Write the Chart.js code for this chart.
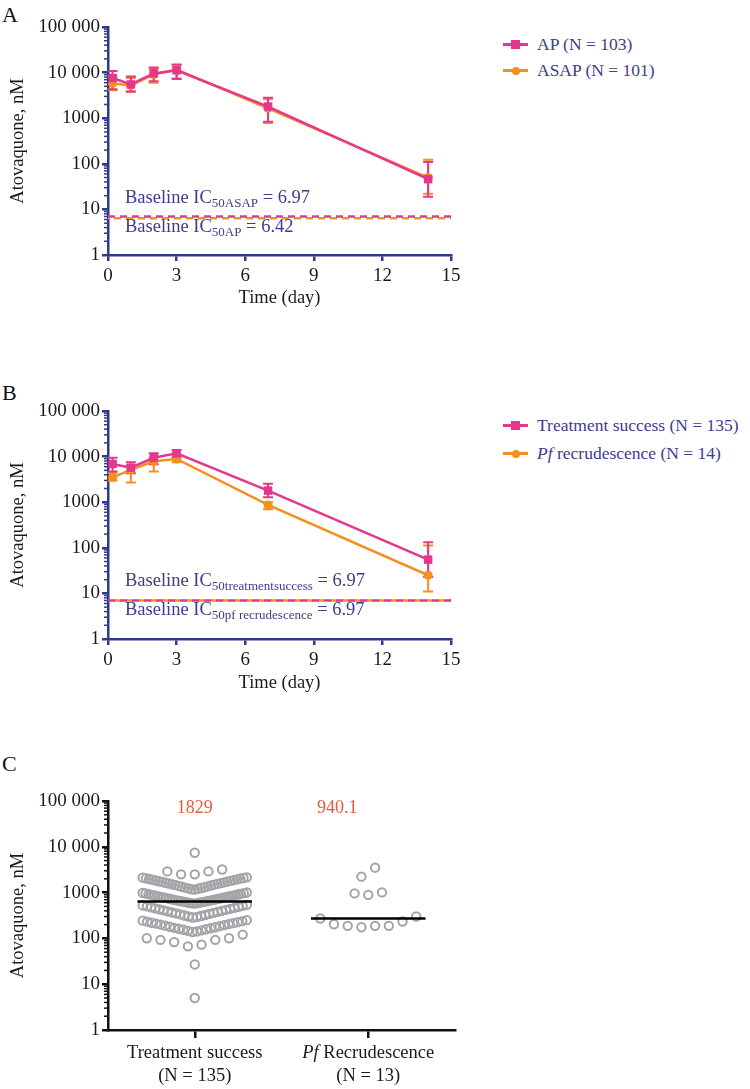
<!DOCTYPE html>
<html>
<head>
<meta charset="utf-8">
<script src="https://cdn.jsdelivr.net/npm/chart.js@4.4.1/dist/chart.umd.min.js"></script>
<style>
  body { margin: 0; background: #fff; font-family: "Liberation Serif", "Times New Roman", Tinos, "DejaVu Serif", serif; }
  #page { position: relative; width: 750px; height: 1089px; overflow: hidden; }
  .panel { position: absolute; left: 0; }
  .letter { position: absolute; left: 2px; font-size: 22px; color: #111; line-height: 22px; }
  .item { position: absolute; left: 503px; height: 20px; line-height: 20px; white-space: nowrap; font-size: 17.5px; color: #3d3d8c; }
  .sw { display: inline-block; position: relative; width: 25px; height: 20px; vertical-align: top; margin-right: 9px; }
  .sw::before { content: ''; position: absolute; left: 0; right: 0; top: 9px; height: 2.5px; background: var(--c); }
  .sw::after { content: ''; position: absolute; left: 8px; top: 6px; width: 9px; height: 9px; background: var(--c); }
  .sw.dot::after { border-radius: 50%; left: 8.5px; top: 6.5px; width: 8px; height: 8px; }
</style>
</head>
<body>
<div id="page">
  <div class="letter" style="top:4px">A</div>
  <div class="letter" style="top:382px">B</div>
  <div class="letter" style="top:753px">C</div>

  <div class="item" style="top:34px"><span class="sw" style="--c:#e5378c"></span>AP (N = 103)</div>
  <div class="item" style="top:60px"><span class="sw dot" style="--c:#f39020"></span>ASAP (N = 101)</div>
  <div class="item" style="top:415px"><span class="sw" style="--c:#e5378c"></span>Treatment success (N = 135)</div>
  <div class="item" style="top:443px"><span class="sw dot" style="--c:#f39020"></span><i>Pf</i> recrudescence (N = 14)</div>

  <div class="panel" style="top:0px"><canvas id="chartA" width="470" height="320"></canvas></div>
  <div class="panel" style="top:380px"><canvas id="chartB" width="470" height="320"></canvas></div>
  <div class="panel" style="top:740px"><canvas id="chartC" width="470" height="349"></canvas></div>
</div>
<script>
// sampling days
var days = [0.2, 1, 2, 3, 7, 14];

// panel A: AP vs ASAP
var apMean = [7600, 5500, 9600, 11200, 1800, 46];
var apLow = [4300, 3800, 6500, 7200, 840, 19];
var apHigh = [10800, 8200, 12900, 15000, 2800, 109];
var asapMean = [5800, 5200, 9100, 11600, 1650, 50];
var asapLow = [4100, 3900, 6000, 7400, 780, 22];
var asapHigh = [8300, 7600, 12000, 14500, 2600, 122];
var baselineA = [6.97, 6.42];
var baseTextA = [['Baseline IC', '50ASAP', ' = 6.97'], ['Baseline IC', '50AP', ' = 6.42']];

// panel B: treatment success vs Pf recrudescence
var tsMean = [6900, 5700, 9400, 11800, 1800, 55];
var tsLow = [4700, 4300, 6800, 9500, 1290, 23];
var tsHigh = [9400, 7500, 11800, 14000, 2530, 132];
var pfMean = [3500, 5100, 7900, 8900, 870, 25];
var pfLow = [3000, 2700, 4700, 7500, 700, 11];
var pfHigh = [4400, 6500, 9500, 10500, 1000, 112];
var baselineB = [6.97, 6.97];
var baseTextB = [['Baseline IC', '50treatmentsuccess', ' = 6.97'], ['Baseline IC', '50pf recrudescence', ' = 6.97']];

// panel C: individual concentrations
var tsValues = [
  7400,
  2500, 2500, 2900, 2900, 3200,
  1160, 1185, 1210, 1235, 1260, 1285, 1310, 1340, 1370, 1400, 1430, 1460, 1490, 1520, 1550, 1580, 1610,
  1640, 1670, 1700, 1735, 1770, 1805, 1840, 1875, 1910, 1945, 1980, 2015, 2050, 2085, 2120, 2150,
  575, 583, 592, 601, 610, 619, 627, 636, 645, 655, 665, 675, 686, 697, 708, 720, 732, 744,
  756, 769, 782, 795, 808, 822, 836, 850, 864, 879, 894, 909, 924, 940, 956, 972, 988, 1005,
  285, 293, 301, 309, 317, 325, 334, 343, 352, 361, 370, 380, 390, 400, 410, 420, 431, 442,
  453, 464, 476, 488, 500, 512, 525, 540,
  138, 142, 146, 150, 154, 158, 162, 166, 170, 175, 180, 185, 190, 195, 200, 205, 210, 215,
  220, 226, 232, 238, 244, 250,
  67, 73, 83, 93, 93, 101, 101, 121,
  27,
  5
];
var pfValues = [175, 188, 188, 188, 204, 234, 272, 300, 890, 960, 1010, 2230, 3500];
var groupLabels = [[{t: 'Treatment success'}], [{t: 'Pf', i: true}, {t: ' Recrudescence'}]];
var groupN = ['(N = 135)', '(N = 13)'];
var groupNumbers = ['1829', '940.1'];

var decades = [1, 10, 100, 1000, 10000, 100000];

var PINK = '#e5378c', ORANGE = '#f39020', NAVY = '#2f3a8a', TEXTNAVY = '#3d3d8c', GREY = '#a3a3a8';
var FAM = '"Liberation Serif", "Times New Roman", Tinos, "DejaVu Serif", serif';
Chart.defaults.font.family = FAM;

function fmt(v) {
  return v >= 10000 ? String(v).replace(/(\d)(\d{3})$/, '$1 $2') : String(v);
}

function pts(means) {
  return days.map((d, i) => ({x: d, y: means[i]}));
}

function logAxis(color, area) {
  return {
    type: 'logarithmic', min: 1, max: 100000,
    afterBuildTicks: s => { s.ticks = decades.map(v => ({value: v, major: true})); },
    afterFit: s => { s.width = area; },
    ticks: {callback: v => fmt(v), font: {size: 19}, color: '#1a1a1a', padding: 2},
    grid: {drawOnChartArea: false, color: color, lineWidth: 2.5, tickLength: 6},
    border: {color: color, width: 2.5},
    title: {display: true, text: 'Atovaquone, nM', font: {size: 18.5}, color: '#1a1a1a', padding: {top: 7, bottom: 0}}
  };
}

function timeAxis(h, pb) {
  return {
    type: 'linear', min: 0, max: 15,
    afterFit: s => { s.height = h; },
    ticks: {stepSize: 3, font: {size: 19}, color: '#1a1a1a', padding: 4},
    grid: {drawOnChartArea: false, color: NAVY, lineWidth: 2.5, tickLength: 6},
    border: {color: NAVY, width: 2.5},
    title: {display: true, text: 'Time (day)', font: {size: 18.5}, color: '#1a1a1a', padding: {top: 0, bottom: pb}}
  };
}

var minorTicks = color => ({
  id: 'minorTicks',
  afterDraw(chart) {
    var y = chart.scales.y, ctx = chart.ctx, left = chart.chartArea.left;
    ctx.save();
    ctx.strokeStyle = color;
    ctx.lineWidth = 1.5;
    for (var d = 1; d < 100000; d *= 10) {
      for (var k = 2; k < 10; k++) {
        var py = y.getPixelForValue(d * k);
        ctx.beginPath(); ctx.moveTo(left - 4, py); ctx.lineTo(left, py); ctx.stroke();
      }
    }
    ctx.restore();
  }
});

// error bars, drawn under the lines and markers
var errorBars = bars => ({
  id: 'errorBars',
  beforeDatasetsDraw(chart) {
    var ctx = chart.ctx, y = chart.scales.y;
    ctx.save();
    ctx.lineWidth = 2;
    bars.slice().reverse().forEach(b => {
      var meta = chart.getDatasetMeta(b.ds);
      ctx.strokeStyle = b.color;
      meta.data.forEach((p, i) => {
        var lo = y.getPixelForValue(b.lo[i]), hi = y.getPixelForValue(b.hi[i]);
        ctx.beginPath();
        ctx.moveTo(p.x, lo); ctx.lineTo(p.x, hi);
        ctx.moveTo(p.x - 5, lo); ctx.lineTo(p.x + 5, lo);
        ctx.moveTo(p.x - 5, hi); ctx.lineTo(p.x + 5, hi);
        ctx.stroke();
      });
    });
    ctx.restore();
  }
});

// "Baseline IC50... = ..." labels with subscripts
var baseLabels = (texts, values) => ({
  id: 'baseLabels',
  afterDraw(chart) {
    var ctx = chart.ctx, y = chart.scales.y;
    var py = (y.getPixelForValue(values[0]) + y.getPixelForValue(values[1])) / 2;
    var rows = [py - 19, py + 10];
    ctx.save();
    ctx.fillStyle = TEXTNAVY;
    ctx.textBaseline = 'middle';
    ctx.textAlign = 'left';
    texts.forEach((t, r) => {
      var x = chart.chartArea.left + 17;
      ctx.font = '18.5px ' + FAM;
      ctx.fillText(t[0], x, rows[r]);
      x += ctx.measureText(t[0]).width;
      ctx.font = '13px ' + FAM;
      ctx.fillText(t[1], x, rows[r] + 5);
      x += ctx.measureText(t[1]).width;
      ctx.font = '18.5px ' + FAM;
      ctx.fillText(t[2], x, rows[r]);
    });
    ctx.restore();
  }
});

function kineticsChart(id, padTop, xh, pb, s1, s2, base, baseText) {
  return new Chart(document.getElementById(id), {
    type: 'line',
    data: {
      datasets: [
        {data: pts(s1.mean), borderColor: PINK, backgroundColor: PINK, borderWidth: 2.5,
         pointStyle: 'rect', pointRadius: 6, pointBorderWidth: 0},
        {data: pts(s2.mean), borderColor: ORANGE, backgroundColor: ORANGE, borderWidth: 2.5,
         pointStyle: 'circle', pointRadius: 4.5, pointBorderWidth: 0},
        {data: [{x: 0, y: base[0]}, {x: 15, y: base[0]}], borderColor: PINK, borderWidth: 2.5,
         borderDash: [7, 5], pointRadius: 0},
        {data: [{x: 0, y: base[1]}, {x: 15, y: base[1]}], borderColor: ORANGE, borderWidth: 2.5,
         borderDash: [7, 5], borderDashOffset: 6, pointRadius: 0}
      ]
    },
    options: {
      responsive: false, animation: false,
      layout: {padding: {top: padTop, right: 19, left: 0, bottom: 0}},
      plugins: {legend: {display: false}, tooltip: {enabled: false}},
      scales: {x: timeAxis(xh, pb), y: logAxis(NAVY, 108)}
    },
    plugins: [
      errorBars([{ds: 0, lo: s1.lo, hi: s1.hi, color: PINK}, {ds: 1, lo: s2.lo, hi: s2.hi, color: ORANGE}]),
      minorTicks(NAVY),
      baseLabels(baseText, base)
    ]
  });
}

kineticsChart('chartA', 27, 65, 11,
  {mean: apMean, lo: apLow, hi: apHigh}, {mean: asapMean, lo: asapLow, hi: asapHigh}, baselineA, baseTextA);
kineticsChart('chartB', 31, 61, 6,
  {mean: tsMean, lo: tsLow, hi: tsHigh}, {mean: pfMean, lo: pfLow, hi: pfHigh}, baselineB, baseTextB);

// panel C: rows of points (GraphPad-like scatter), centre-out by rank
var ROW_SPAN = 0.3, ROW_WIDTH = 1.2, MAX_STEP = 0.158;
function swarm(values, center) {
  var sorted = values.slice().sort((a, b) => a - b);
  var rows = [];
  sorted.forEach(v => {
    var row = rows[rows.length - 1];
    if (row && Math.log10(v) - Math.log10(row[0]) <= ROW_SPAN) row.push(v);
    else rows.push([v]);
  });
  var out = [];
  rows.forEach(row => {
    var n = row.length;
    var step = n > 1 ? Math.min(MAX_STEP, ROW_WIDTH / (n - 1)) : 0;
    row.forEach((v, i) => {
      var k;
      if (n % 2) k = i === 0 ? 0 : (i % 2 ? -(i + 1) / 2 : i / 2);
      else k = i % 2 ? (i - 1) / 2 + 0.5 : -(i / 2 + 0.5);
      out.push({x: center + k * step, y: v});
    });
  });
  return out;
}
function median(values) {
  var s = values.slice().sort((a, b) => a - b), m = Math.floor(s.length / 2);
  return s.length % 2 ? s[m] : (s[m - 1] + s[m]) / 2;
}
function medianLine(values, center) {
  var m = median(values);
  return {type: 'line', data: [{x: center - 0.66, y: m}, {x: center + 0.66, y: m}], borderColor: '#000',
          borderWidth: 2.5, pointRadius: 0, showLine: true};
}
var centers = [1, 3];

var groupText = {
  id: 'groupText',
  afterDraw(chart) {
    var ctx = chart.ctx, xs = chart.scales.x, a = chart.chartArea;
    ctx.save();
    ctx.textBaseline = 'middle';
    ctx.textAlign = 'left';
    centers.forEach((c, g) => {
      var cx = xs.getPixelForValue(c);
      // category label, first line may have italic parts
      var parts = groupLabels[g], w = 0;
      parts.forEach(p => { ctx.font = (p.i ? 'italic ' : '') + '18.5px ' + FAM; w += ctx.measureText(p.t).width; });
      var x = cx - w / 2;
      ctx.fillStyle = '#1a1a1a';
      parts.forEach(p => {
        ctx.font = (p.i ? 'italic ' : '') + '18.5px ' + FAM;
        ctx.fillText(p.t, x, a.bottom + 23);
        x += ctx.measureText(p.t).width;
      });
      ctx.font = '18.5px ' + FAM;
      ctx.textAlign = 'center';
      ctx.fillText(groupN[g], cx, a.bottom + 46);
      ctx.fillStyle = '#ea5a3c';
      ctx.font = '18px ' + FAM;
      ctx.fillText(groupNumbers[g], g === 0 ? cx : cx - 31, a.top + 7);
      ctx.textAlign = 'left';
    });
    ctx.restore();
  }
};

new Chart(document.getElementById('chartC'), {
  type: 'scatter',
  data: {
    datasets: [
      medianLine(tsValues, centers[0]),
      medianLine(pfValues, centers[1]),
      {data: swarm(tsValues, centers[0]), borderColor: GREY, backgroundColor: 'rgba(0,0,0,0)',
       pointRadius: 4.2, pointBorderWidth: 2},
      {data: swarm(pfValues, centers[1]), borderColor: GREY, backgroundColor: 'rgba(0,0,0,0)',
       pointRadius: 4.2, pointBorderWidth: 2}
    ]
  },
  options: {
    responsive: false, animation: false,
    layout: {padding: {top: 61, right: 15, left: 0, bottom: 0}},
    plugins: {legend: {display: false}, tooltip: {enabled: false}},
    scales: {
      x: {
        type: 'linear', min: 0, max: 4,
        afterBuildTicks: s => { s.ticks = centers.map(v => ({value: v})); },
        afterFit: s => { s.height = 59; },
        ticks: {callback: () => '', font: {size: 17}},
        grid: {drawOnChartArea: false, color: '#111', lineWidth: 2.5, tickLength: 8},
        border: {color: '#111', width: 2.5}
      },
      y: logAxis('#111', 108)
    }
  },
  plugins: [minorTicks('#111'), groupText]
});
</script>
</body>
</html>
